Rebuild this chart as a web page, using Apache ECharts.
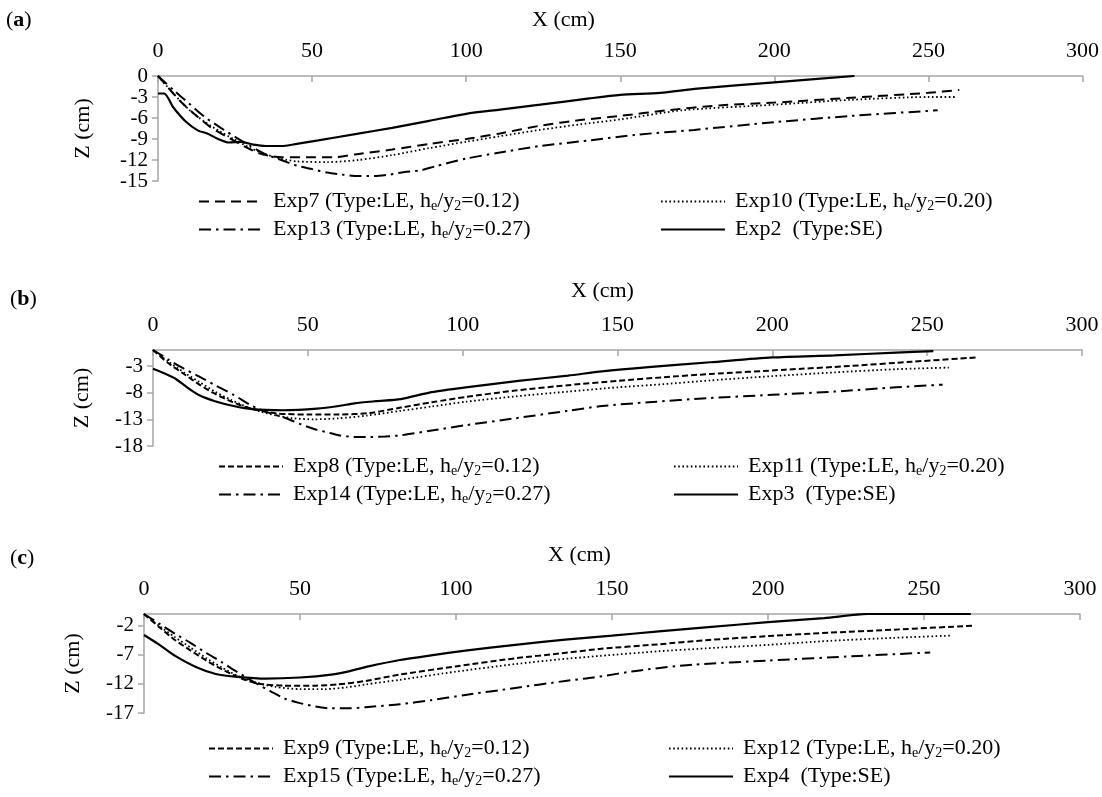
<!DOCTYPE html>
<html><head><meta charset="utf-8">
<script src="https://cdn.jsdelivr.net/npm/echarts@6/dist/echarts.min.js"></script>
<style>html,body{margin:0;padding:0;background:#fff}#c{width:1102px;height:797px}</style>
</head><body><div id="c"></div>
<script>
// ---- tick labels ----
const xTicks = [0, 50, 100, 150, 200, 250, 300];
const zTicksA = [0, -3, -6, -9, -12, -15];
const zTicksB = [-3, -8, -13, -18];
const zTicksC = [-2, -7, -12, -17];

// ---- series names ----
const namesA = ['Exp7 (Type:LE, he/y2=0.12)', 'Exp10 (Type:LE, he/y2=0.20)', 'Exp13 (Type:LE, he/y2=0.27)', 'Exp2  (Type:SE)'];
const namesB = ['Exp8 (Type:LE, he/y2=0.12)', 'Exp11 (Type:LE, he/y2=0.20)', 'Exp14 (Type:LE, he/y2=0.27)', 'Exp3  (Type:SE)'];
const namesC = ['Exp9 (Type:LE, he/y2=0.12)', 'Exp12 (Type:LE, he/y2=0.20)', 'Exp15 (Type:LE, he/y2=0.27)', 'Exp4  (Type:SE)'];

// ---- panel (a) [X cm, Z cm] ----
const exp7 = [[0,0],[3,-1.5],[7,-3.5],[12,-5.5],[17,-7.3],[22,-8.6],[27,-9.8],[32,-10.9],[36,-11.4],[40,-11.6],[50,-11.6],[57,-11.6],[64,-11.2],[76,-10.5],[88,-9.7],[100,-9.0],[111,-8.2],[124,-7.1],[137,-6.3],[150,-5.7],[165,-4.9],[182,-4.2],[200,-3.8],[225,-3.1],[250,-2.4],[260,-2.0]];
const exp10 = [[0,0],[5,-2.5],[10,-4.8],[15,-6.5],[20,-7.9],[25,-9.1],[30,-10.3],[35,-11.2],[40,-11.8],[45,-12.2],[55,-12.3],[65,-12.0],[76,-11.3],[88,-10.3],[100,-9.4],[111,-8.6],[124,-7.7],[137,-6.9],[150,-6.2],[170,-4.9],[200,-4.1],[225,-3.4],[250,-3.0],[259,-3.0]];
const exp13 = [[0,0],[5,-2],[10,-3.9],[15,-5.8],[20,-7.3],[25,-8.7],[30,-10],[35,-11.2],[40,-12],[45,-12.8],[50,-13.3],[55,-13.8],[60,-14.1],[65,-14.3],[70,-14.3],[75,-14.1],[80,-13.7],[85,-13.5],[90,-12.9],[100,-11.8],[110,-11.0],[124,-10.0],[140,-9.2],[155,-8.4],[174,-7.7],[200,-6.6],[225,-5.7],[253,-4.9]];
const exp2 = [[0,-2.5],[2,-2.5],[5,-4.5],[9,-6.5],[13,-7.8],[16,-8.2],[19,-8.9],[23,-9.5],[27,-9.4],[31,-9.8],[35,-10],[40,-10],[45,-9.7],[52,-9.2],[64,-8.3],[76,-7.4],[88,-6.4],[100,-5.4],[111,-4.8],[124,-4.1],[140,-3.2],[150,-2.7],[163,-2.4],[175,-1.8],[200,-0.9],[226,0]];

// ---- panel (b) ----
const exp8 = [[0,0],[5,-2.5],[10,-4.5],[15,-6.5],[20,-8.2],[25,-9.6],[30,-10.7],[35,-11.4],[40,-11.9],[50,-12.1],[60,-12.1],[70,-11.8],[80,-10.8],[90,-9.8],[101,-8.8],[117,-7.6],[134,-6.6],[150,-5.8],[165,-5.1],[180,-4.5],[204,-3.7],[225,-3.0],[245,-2.2],[266,-1.4]];
const exp11 = [[0,0],[5,-2.2],[10,-4.2],[15,-6],[20,-7.8],[25,-9.3],[30,-10.6],[35,-11.6],[40,-12.3],[45,-12.8],[52,-13],[60,-12.8],[69,-12.3],[80,-11.4],[90,-10.6],[101,-9.7],[117,-8.7],[134,-7.8],[150,-7.0],[165,-6.4],[180,-5.7],[200,-4.9],[220,-4.2],[240,-3.6],[257,-3.3]];
const exp14 = [[0,0],[5,-1.8],[10,-3.5],[15,-5],[20,-6.6],[26,-8.4],[32,-10.5],[37,-11.7],[43,-12.8],[48,-14],[52,-14.8],[56,-15.4],[60,-16],[65,-16.3],[70,-16.3],[75,-16.2],[80,-16],[90,-15.1],[101,-14.1],[117,-12.8],[134,-11.4],[145,-10.5],[160,-9.8],[180,-9.0],[200,-8.4],[220,-7.8],[240,-7.0],[255,-6.5]];
const exp3 = [[0,-3.5],[3,-4.2],[7,-5.3],[11,-7],[15,-8.5],[20,-9.6],[26,-10.5],[32,-11.1],[42,-11.3],[53,-11.0],[60,-10.5],[65,-10.0],[72,-9.6],[80,-9.2],[90,-7.9],[101,-7.0],[118,-5.8],[134,-4.8],[145,-4.0],[160,-3.2],[180,-2.3],[200,-1.4],[220,-1.0],[240,-0.5],[252,-0.2]];

// ---- panel (c) ----
const exp9 = [[0,0],[5,-2.3],[10,-4.5],[15,-6.3],[20,-8],[25,-9.5],[30,-10.8],[36,-11.9],[45,-12.3],[55,-12.3],[62,-12.1],[71,-11.5],[82,-10.4],[100,-9.0],[119,-7.6],[133,-6.8],[146,-6.0],[165,-5.2],[180,-4.5],[200,-3.8],[220,-3.2],[240,-2.7],[266,-2.0]];
const exp12 = [[0,0],[5,-2.1],[10,-4],[15,-5.8],[20,-7.6],[25,-9.2],[30,-10.6],[36,-11.8],[42,-12.5],[50,-12.9],[58,-12.9],[65,-12.6],[71,-12.1],[82,-11.3],[100,-9.9],[119,-8.6],[133,-7.8],[146,-7.2],[165,-6.4],[180,-5.9],[200,-5.3],[220,-4.6],[240,-4.1],[259,-3.7]];
const exp15 = [[0,0],[5,-1.7],[10,-3.4],[15,-5],[20,-6.7],[25,-8.3],[30,-10],[35,-11.6],[41,-13.4],[45,-14.5],[50,-15.3],[55,-15.9],[60,-16.2],[66,-16.2],[71,-16.0],[82,-15.5],[92,-14.8],[103,-13.9],[119,-12.7],[135,-11.5],[144,-10.9],[160,-9.6],[176,-8.7],[200,-8.0],[229,-7.2],[252,-6.6]];
const exp4 = [[0,-3.6],[5,-5.3],[10,-7.2],[17,-9.2],[23,-10.3],[30,-10.8],[39,-11.1],[50,-10.9],[60,-10.4],[66,-9.8],[72,-9.0],[82,-7.9],[92,-7.1],[103,-6.3],[119,-5.3],[135,-4.4],[150,-3.7],[165,-3.0],[180,-2.3],[200,-1.4],[218,-0.7],[232,0],[265,0]];

const FONT = 'Liberation Serif';
const FS = 22;
const AX = '#a6a6a6';
const dashA = {type: [10, 6], width: 2};
const dashBC = {type: [6, 3], width: 2};
const styles = [
  null,                              // dashed (per panel)
  {type: [1.6, 2.6], width: 1.8},    // dotted
  {type: [12, 5, 2.5, 5], width: 2}, // dash-dot
  {type: 'solid', width: 2.2}        // solid
];

const grids = [
  {left: 158, right: 18, top: 76, height: 105},
  {left: 153, right: 20, top: 350, height: 96},
  {left: 144, right: 22, top: 614, height: 99}
];
const yRanges = [
  {min: -15, max: 0, ticks: zTicksA, gap: 64},
  {min: -18, max: 0, ticks: zTicksB, gap: 60},
  {min: -17, max: 0, ticks: zTicksC, gap: 60}
];

const xAxis = grids.map((g, i) => ({
  type: 'value', gridIndex: i, position: 'top', min: 0, max: 300, interval: 50,
  axisLine: {show: true, lineStyle: {color: AX, width: 1.5}},
  axisTick: {show: true, inside: true, length: 6, lineStyle: {color: AX, width: 1.5}, customValues: xTicks},
  axisLabel: {fontFamily: FONT, fontSize: FS, color: '#000', margin: 14, customValues: xTicks,
    showMinLabel: true, showMaxLabel: true, hideOverlap: false},
  splitLine: {show: false}
}));
const yAxis = yRanges.map((r, i) => ({
  type: 'value', gridIndex: i, min: r.min, max: r.max,
  name: 'Z (cm)', nameLocation: 'middle', nameRotate: 90, nameGap: r.gap,
  nameTextStyle: {fontFamily: FONT, fontSize: FS, color: '#000'},
  axisLine: {show: true, onZero: false, lineStyle: {color: AX, width: 1.5}},
  axisTick: {show: true, length: 6, lineStyle: {color: AX, width: 1.5}, customValues: r.ticks},
  axisLabel: {fontFamily: FONT, fontSize: 21, color: '#000', margin: 10, customValues: r.ticks,
    showMinLabel: true, showMaxLabel: true, hideOverlap: false},
  splitLine: {show: false}
}));

const panelData = [[exp7, exp10, exp13, exp2], [exp8, exp11, exp14, exp3], [exp9, exp12, exp15, exp4]];
const panelNames = [namesA, namesB, namesC];
const series = [];
panelData.forEach((arr, p) => arr.forEach((d, k) => {
  const st = k === 0 ? (p === 0 ? dashA : dashBC) : styles[k];
  series.push({
    type: 'line', name: panelNames[p][k], xAxisIndex: p, yAxisIndex: p, data: d,
    symbol: 'none', smooth: 0.25, silent: true,
    lineStyle: Object.assign({color: '#000'}, st),
    itemStyle: {color: '#000'}
  });
}));

const legendPos = [
  {top: 190, l: 198, r: 660},
  {top: 455, l: 218, r: 673},
  {top: 737, l: 208, r: 668}
];
const legend = [];
legendPos.forEach((lp, p) => {
  const base = {
    orient: 'vertical', top: lp.top, itemWidth: 64, itemHeight: 14, itemGap: 5, padding: 0,
    selectedMode: false,
    itemStyle: {opacity: 0},
    formatter: n => n.replace('he/y2', 'h{s|e}/y{s|2}'),
    textStyle: {fontFamily: FONT, fontSize: FS, color: '#000', lineHeight: 23, padding: [0, 0, 0, 5],
      rich: {s: {fontFamily: FONT, fontSize: 14, color: '#000', lineHeight: 14, verticalAlign: 'bottom'}}}
  };
  legend.push(Object.assign({}, base, {left: lp.l, data: [panelNames[p][0], panelNames[p][2]]}));
  legend.push(Object.assign({}, base, {left: lp.r, data: [panelNames[p][1], panelNames[p][3]]}));
});

const tStyle = {fontFamily: FONT, fontSize: FS, fontWeight: 'normal', color: '#000',
  rich: {b: {fontFamily: FONT, fontSize: FS, fontWeight: 'bold', color: '#000'}}};
const title = [
  {text: '({b|a})', left: 6, top: 9, padding: 0, textStyle: tStyle},
  {text: 'X (cm)', left: 532, top: 9, padding: 0, textStyle: tStyle},
  {text: '({b|b})', left: 10, top: 288, padding: 0, textStyle: tStyle},
  {text: 'X (cm)', left: 571, top: 280, padding: 0, textStyle: tStyle},
  {text: '({b|c})', left: 10, top: 547, padding: 0, textStyle: tStyle},
  {text: 'X (cm)', left: 548, top: 544, padding: 0, textStyle: tStyle}
];

const chart = echarts.init(document.getElementById('c'), null, {renderer: 'canvas'});
chart.setOption({
  backgroundColor: '#fff', animation: false,
  title, legend, grid: grids, xAxis, yAxis, series
});
</script>
</body></html>
